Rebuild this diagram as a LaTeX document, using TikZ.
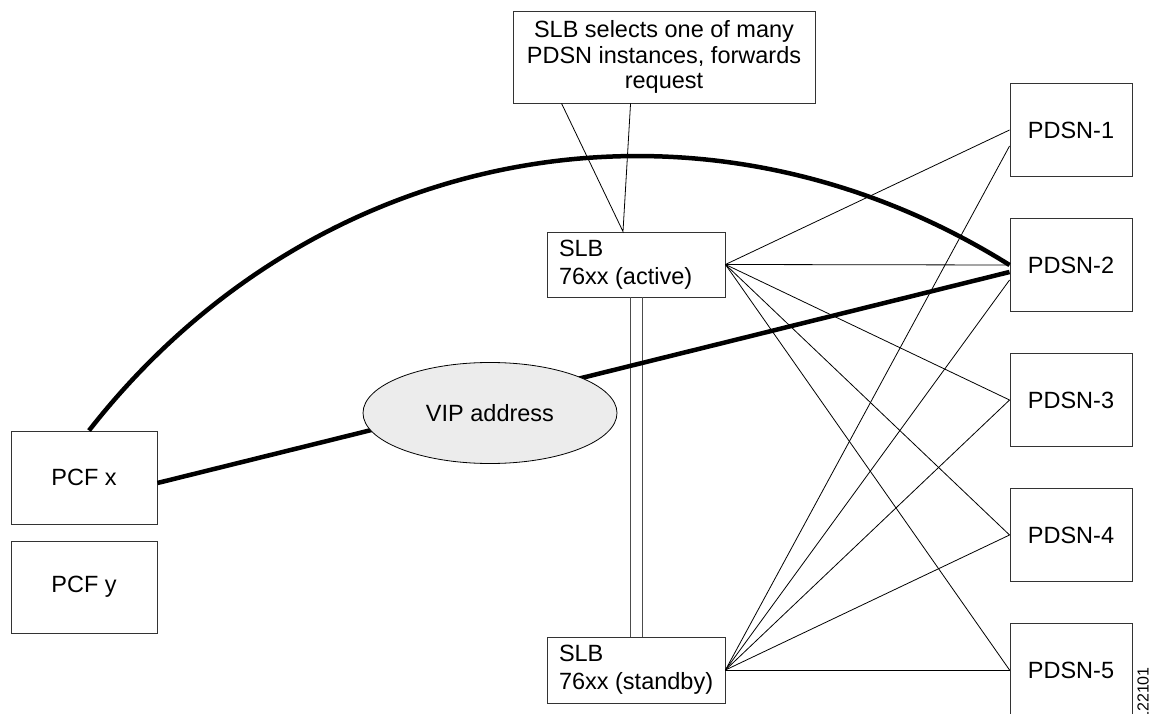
\documentclass[tikz,border=0pt]{standalone}
\usepackage{fontspec}
\setmainfont{Liberation Sans}
\usetikzlibrary{shapes.geometric,calc}
\newcommand\dgfont{\fontsize{23.5}{28}\selectfont}
\newcommand\dgcalloutfont{\fontsize{23.5}{25.7}\selectfont}
\definecolor{vipgrey}{HTML}{ECECEC}
\definecolor{edgegrey}{HTML}{333333}
\begin{document}
\begin{tikzpicture}[x=1pt,y=1pt,
  box/.style={draw=edgegrey, line width=0.9pt, fill=white, inner sep=0pt, font=\dgfont},
  pdsnbox/.style={box, minimum width=122pt, minimum height=93pt},
  pcfbox/.style={box, minimum width=146pt, minimum height=93pt},
  slbbox/.style={box, minimum width=178pt, minimum height=65pt, text width=154pt, align=flush left},
  link/.style={draw=black, line width=0.8pt},
  rail/.style={draw=black!70, line width=0.9pt},
  trunk/.style={draw=black, line width=4.5pt},
]
\useasboundingbox (0,0) rectangle (1163,713);

% devices
\node[pcfbox] (pcfx) at (84,235.5) {PCF x};
\node[pcfbox, minimum height=92pt] (pcfy) at (84,126) {PCF y};
\node[slbbox] (slba) at (636,448.5) {SLB\\\mbox{76xx (active)}};
\node[slbbox, minimum height=66pt] (slbs) at (636,43) {SLB\\\mbox{76xx (standby)}};
\node[pdsnbox] (pdsn1) at (1071,583) {PDSN-1};
\node[pdsnbox] (pdsn2) at (1071,448) {PDSN-2};
\node[pdsnbox] (pdsn3) at (1071,313) {PDSN-3};
\node[pdsnbox] (pdsn4) at (1071,178) {PDSN-4};
\node[pdsnbox] (pdsn5) at (1071,43) {PDSN-5};

% callout
\node[box, minimum width=302pt, minimum height=92pt, align=center, font=\dgcalloutfont]
  (callout) at (664,656) {SLB selects one of many\\PDSN instances, forwards\\request};
\coordinate (tip) at ([xshift=-13pt]slba.north);
\draw[link] ([xshift=49pt]callout.south west) -- (tip) -- ([xshift=118pt]callout.south west);

% redundancy link between the two SLBs
\draw[rail] ([xshift=-6pt]slba.south) -- ([xshift=-6pt]slbs.north);
\draw[rail] ([xshift=6pt]slba.south) -- ([xshift=6pt]slbs.north);

% fan-out from the SLBs to the PDSN instances
\foreach \k in {1,...,5}
  \draw[link] (slba.east) -- (pdsn\k.west);
\draw[link] (slbs.east) -- ([yshift=-16pt]pdsn1.west);
\draw[link] (slbs.east) -- ([yshift=-15pt]pdsn2.west);
\draw[link] (slbs.east) -- (pdsn3.west);
\draw[link] (slbs.east) -- (pdsn4.west);
\draw[link] (slbs.east) -- (pdsn5.west);

% session paths
\draw[trunk] ([xshift=5pt]pcfx.north) to[out=52,in=148] (pdsn2.west);
\draw[trunk] ([yshift=-5.5pt]pcfx.east) -- ([yshift=-7pt]pdsn2.west);
\node[ellipse, draw=black, line width=0.8pt, fill=vipgrey, minimum width=254pt,
      minimum height=101pt, inner sep=0pt, font=\dgfont] (vip) at (490,300) {VIP address};

% figure number
\node[rotate=90, anchor=east, inner sep=0pt, font=\fontsize{16}{16}\selectfont]
  (fignum) at (1143,46) {122101};
\end{tikzpicture}
\end{document}
